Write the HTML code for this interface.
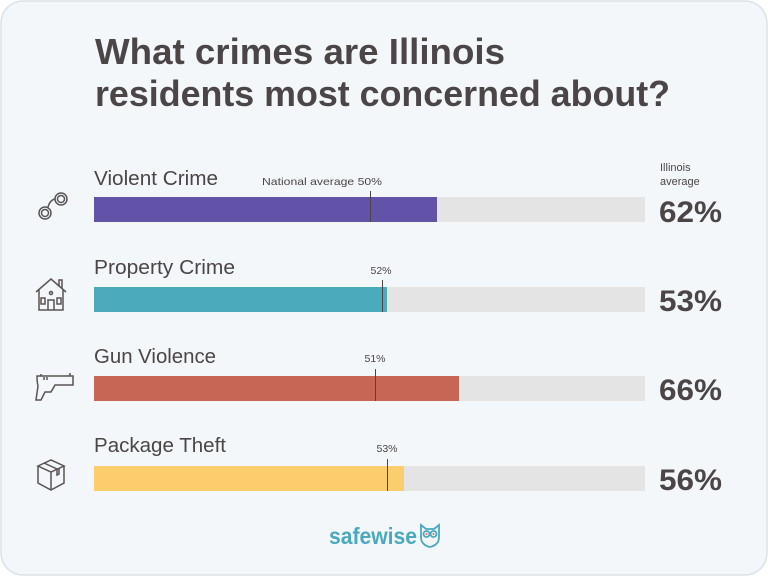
<!DOCTYPE html>
<html><head><meta charset="utf-8"><style>
html,body{margin:0;padding:0;background:#fff;}
svg{display:block;font-family:"Liberation Sans",sans-serif;}
</style></head><body>
<svg width="768" height="576" viewBox="0 0 768 576" xmlns="http://www.w3.org/2000/svg">
<rect x="1" y="1" width="766" height="574" rx="22" fill="#f3f7f9" stroke="#dbe3e8" stroke-width="1.5"/>
<g fill="#4b4547" font-weight="bold" font-size="36">
<text x="95" y="64" textLength="410" lengthAdjust="spacingAndGlyphs">What crimes are Illinois</text>
<text x="95" y="106" textLength="575" lengthAdjust="spacingAndGlyphs">residents most concerned about?</text>
</g>
<g fill="#4b4547" font-size="20">
<text x="94" y="185" textLength="124" lengthAdjust="spacingAndGlyphs">Violent Crime</text>
<text x="94" y="274" textLength="141" lengthAdjust="spacingAndGlyphs">Property Crime</text>
<text x="94" y="363" textLength="122" lengthAdjust="spacingAndGlyphs">Gun Violence</text>
<text x="94" y="452" textLength="132" lengthAdjust="spacingAndGlyphs">Package Theft</text>
</g>
<g fill="#4b4547" font-size="11">
<text x="660" y="171">Illinois</text>
<text x="660" y="185">average</text>
</g>
<g fill="#4b4547" font-size="10.5">
<text x="262" y="185" textLength="120" lengthAdjust="spacingAndGlyphs">National average  50%</text>
<text x="381" y="274" text-anchor="middle">52%</text>
<text x="375" y="362" text-anchor="middle">51%</text>
<text x="387" y="452" text-anchor="middle">53%</text>
</g>
<g fill="#e4e4e4">
<rect x="94" y="197" width="551" height="25"/>
<rect x="94" y="287" width="551" height="25"/>
<rect x="94" y="376" width="551" height="25"/>
<rect x="94" y="466" width="551" height="25"/>
</g>
<rect x="94" y="197" width="343" height="25" fill="#6252a8"/>
<rect x="94" y="287" width="293" height="25" fill="#4aabbc"/>
<rect x="94" y="376" width="365" height="25" fill="#c66756"/>
<rect x="94" y="466" width="310" height="25" fill="#fbcd6c"/>
<g stroke="#4b4547" stroke-width="1">
<line x1="370.5" y1="191" x2="370.5" y2="222"/>
<line x1="382.5" y1="280" x2="382.5" y2="312"/>
<line x1="375.5" y1="369" x2="375.5" y2="401"/>
<line x1="387.5" y1="459" x2="387.5" y2="491"/>
</g>
<g fill="#4b4547" font-weight="bold" font-size="30">
<text x="659" y="222" textLength="63" lengthAdjust="spacingAndGlyphs">62%</text>
<text x="659" y="311" textLength="63" lengthAdjust="spacingAndGlyphs">53%</text>
<text x="659" y="400" textLength="63" lengthAdjust="spacingAndGlyphs">66%</text>
<text x="659" y="490" textLength="63" lengthAdjust="spacingAndGlyphs">56%</text>
</g>
<g fill="none" stroke="#5a5456" stroke-width="1.5">
<circle cx="45" cy="213" r="6"/><circle cx="45" cy="213" r="3.5"/>
<circle cx="61" cy="199" r="6"/><circle cx="61" cy="199" r="3.5"/>
<path d="M48 207 Q50 200 55 199"/>
<path d="M36 292 L51 279 L66 292 M39 290 V310 H63 V290 M59 286 V280 H62 V289"/>
<path d="M48 310 V300 H54 V310"/><rect x="41" y="298" width="4" height="6"/><rect x="57" y="298" width="4" height="6"/>
<circle cx="51" cy="293" r="1.5"/>
<path d="M37 376 H73 V385 H55 L51 392 H45 L41 400 H36 L38 386 Q37 382 37 376 Z M41 376 V374 M70 376 V373 M44 380 V377 M47 380 V377"/>
<path d="M38 466 L51 460 L64 466 L51 472 Z M38 466 V483 L51 490 L64 483 V466 M51 472 V490 M44 463 L57 469 V475 L59 474 V468"/>
</g>
<text x="329" y="544" font-size="23" font-weight="bold" fill="#4aa8bf" textLength="88" lengthAdjust="spacingAndGlyphs">safewise</text>
<g fill="none" stroke="#4aa8bf" stroke-width="1.8">
<path d="M421 525 L426 529 H434 L439 525 V537 Q439 545 430 547 Q421 545 421 537 Z"/>
<circle cx="426.5" cy="534" r="3"/><circle cx="433.5" cy="534" r="3"/>
</g>
<circle cx="426.5" cy="534" r="1" fill="#e8604c"/><circle cx="433.5" cy="534" r="1" fill="#e8604c"/>
</svg>
</body></html>
